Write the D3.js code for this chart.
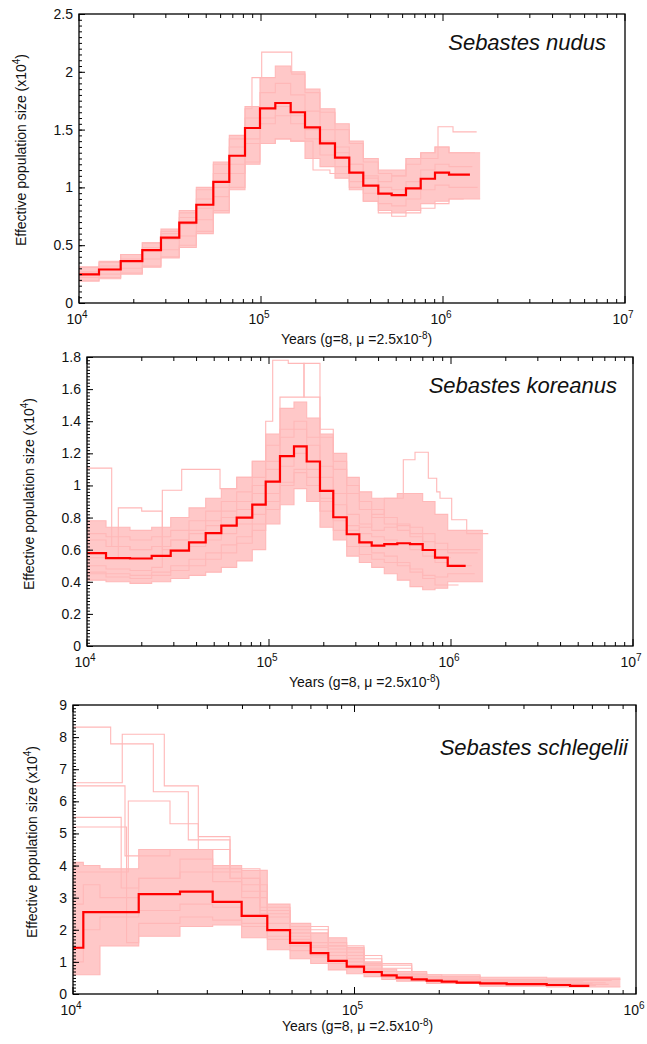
<!DOCTYPE html>
<html>
<head>
<meta charset="utf-8">
<script src="https://cdn.jsdelivr.net/npm/d3@7"></script>
<style>
body { margin: 0; background: #fff; }
svg { display: block; }
text { font-family: "Liberation Sans", Arial, Helvetica, sans-serif; fill: #111; }
</style>
</head>
<body>
<svg width="647" height="1044"></svg>
<script>
// ---- Sebastes nudus ----
var nudusYears = [1e4, 12882, 16950, 22280, 28210, 35560, 44110, 54700, 66960, 81680, 98740, 119840, 145600, 174500, 210900, 255000, 305500, 364700, 441000, 522400, 626100, 754300, 903600, 1079000];
var nudusNe = [0.248, 0.29, 0.363, 0.458, 0.565, 0.695, 0.85, 1.047, 1.274, 1.514, 1.684, 1.73, 1.65, 1.52, 1.38, 1.257, 1.127, 1.015, 0.946, 0.934, 0.992, 1.075, 1.127, 1.11];
var nudusEnd = 1406000;
var nudusBandLow = [0.19, 0.21, 0.25, 0.31, 0.39, 0.48, 0.60, 0.78, 0.98, 1.20, 1.38, 1.42, 1.40, 1.25, 1.18, 1.08, 0.98, 0.88, 0.80, 0.78, 0.80, 0.86, 0.88, 0.90];
var nudusBandHigh = [0.31, 0.36, 0.42, 0.52, 0.64, 0.80, 1.00, 1.22, 1.45, 1.70, 1.95, 2.05, 2.00, 1.85, 1.68, 1.55, 1.40, 1.25, 1.15, 1.15, 1.25, 1.30, 1.35, 1.30];
var nudusBandEnd = 1600000;
var nudusBoot = [
  { years: [1e4, 12882, 16950, 22280, 28210, 35560, 44110, 54700, 66960, 81680, 89210, 100900, 147500, 174500, 210900, 255000, 305500, 364700, 441000, 522400, 626100, 754300, 903600, 1079000],
    ne: [0.31, 0.35, 0.42, 0.52, 0.62, 0.78, 0.98, 1.2, 1.42, 1.68, 1.95, 2.17, 1.98, 1.82, 1.65, 1.5, 1.38, 1.22, 1.12, 1.1, 1.2, 1.3, 1.35, 1.3], end: 1500000 },
  { years: [1e4, 12882, 16950, 22280, 28210, 35560, 44110, 54700, 66960, 81680, 98740, 119840, 145600, 174500, 210900, 255000, 305500, 364700, 441000, 522400, 626100, 938700, 1135000],
    ne: [0.26, 0.3, 0.36, 0.45, 0.55, 0.68, 0.82, 1.0, 1.2, 1.42, 1.6, 1.7, 1.62, 1.5, 1.4, 1.3, 1.2, 1.1, 1.05, 1.1, 1.25, 1.525, 1.48], end: 1531000 },
  { years: [1e4, 12882, 16950, 22280, 28210, 35560, 44110, 54700, 66960, 81680, 98740, 119840, 145600, 193100, 239300, 305500, 364700, 441000, 522400, 626100, 754300, 903600, 1079000],
    ne: [0.19, 0.22, 0.26, 0.32, 0.4, 0.5, 0.62, 0.8, 1.0, 1.22, 1.38, 1.42, 1.40, 1.15, 1.12, 1.0, 0.88, 0.78, 0.75, 0.78, 0.82, 0.86, 0.9], end: 1300000 },
  { years: nudusYears,
    ne: [0.27, 0.32, 0.38, 0.48, 0.6, 0.74, 0.9, 1.12, 1.35, 1.6, 1.82, 1.9, 1.8, 1.66, 1.5, 1.35, 1.2, 1.08, 1.0, 0.98, 1.05, 1.15, 1.2, 1.18], end: 1450000 },
  { years: nudusYears,
    ne: [0.22, 0.25, 0.3, 0.38, 0.46, 0.58, 0.72, 0.92, 1.12, 1.38, 1.55, 1.62, 1.55, 1.42, 1.28, 1.18, 1.05, 0.95, 0.86, 0.84, 0.9, 0.98, 1.02, 1.0], end: 1550000 }
];
var nudusYTicks = [0, 0.5, 1, 1.5, 2, 2.5];

// ---- Sebastes koreanus ----
var koreanusYears = [1e4, 12720, 17230, 22670, 28840, 36350, 44890, 54700, 66460, 80930, 95920, 114900, 137200, 161100, 190600, 225500, 267300, 313500, 366700, 430000, 506900, 595100, 698900, 816900, 959300];
var koreanusNe = [0.578, 0.547, 0.545, 0.561, 0.594, 0.646, 0.703, 0.75, 0.80, 0.881, 1.024, 1.183, 1.243, 1.149, 0.966, 0.802, 0.696, 0.646, 0.625, 0.634, 0.64, 0.634, 0.598, 0.55, 0.499];
var koreanusEnd = 1204000;
var koreanusBandLow = [0.41, 0.40, 0.39, 0.40, 0.42, 0.44, 0.46, 0.49, 0.53, 0.60, 0.76, 0.88, 0.98, 0.90, 0.74, 0.66, 0.56, 0.52, 0.49, 0.45, 0.41, 0.37, 0.35, 0.36, 0.40];
var koreanusBandHigh = [0.78, 0.74, 0.72, 0.74, 0.80, 0.86, 0.92, 0.98, 1.05, 1.15, 1.32, 1.48, 1.52, 1.42, 1.32, 1.20, 1.05, 0.96, 0.92, 0.92, 0.95, 0.95, 0.90, 0.82, 0.72];
var koreanusBandEnd = 1500000;
var koreanusBoot = [
  { years: [1e4, 13670, 17230, 22670, 28840, 36350, 44890, 54700, 66460, 80930, 95920, 114900, 137200, 161100, 190600, 225500, 267300, 313500, 366700, 430000, 506900, 595100, 698900, 816900, 959300],
    ne: [1.108, 0.62, 0.60, 0.62, 0.66, 0.70, 0.75, 0.80, 0.85, 0.95, 1.10, 1.30, 1.35, 1.25, 1.05, 0.88, 0.75, 0.70, 0.68, 0.66, 0.64, 0.60, 0.56, 0.52, 0.50], end: 1300000 },
  { years: [1e4, 14860, 19980, 25930, 36350, 44890, 54700, 66460, 80930, 95920, 114900, 137200, 161100, 190600, 225500, 267300, 313500, 366700, 430000, 506900, 595100, 698900, 816900],
    ne: [0.55, 0.86, 0.84, 0.60, 0.62, 0.66, 0.70, 0.76, 0.82, 0.95, 1.12, 1.20, 1.10, 0.92, 0.80, 0.70, 0.62, 0.58, 0.56, 0.52, 0.48, 0.42, 0.38], end: 1100000 },
  { years: [1e4, 12720, 17230, 22670, 25930, 33140, 53810, 66460, 80930, 95920, 104800, 127600, 155700, 190600, 225500, 267300, 313500, 366700, 430000, 506900, 595100, 698900, 816900, 959300],
    ne: [0.50, 0.48, 0.47, 0.49, 0.97, 1.10, 0.98, 1.05, 1.15, 1.40, 1.78, 1.76, 1.55, 1.35, 1.15, 1.0, 0.9, 0.85, 0.8, 0.75, 0.7, 0.65, 0.6, 0.58], end: 1400000 },
  { years: [1e4, 12720, 17230, 22670, 28840, 36350, 44890, 54700, 66460, 80930, 95920, 114900, 137200, 161100, 190600, 225500, 267300, 313500, 366700, 430000, 546900, 634200, 750500, 834500, 870000, 1009000, 1220000],
    ne: [0.45, 0.43, 0.42, 0.44, 0.47, 0.50, 0.54, 0.58, 0.64, 0.72, 0.85, 1.0, 1.1, 1.05, 0.90, 0.78, 0.72, 0.74, 0.82, 0.92, 1.16, 1.207, 1.045, 0.96, 0.92, 0.786, 0.70], end: 1603000 },
  { years: [1e4, 12720, 17230, 22670, 28840, 36350, 44890, 54700, 66460, 80930, 95920, 114900, 155700, 190600, 225500, 267300, 313500, 366700, 430000, 506900, 595100, 698900, 816900],
    ne: [0.7, 0.68, 0.66, 0.68, 0.72, 0.78, 0.84, 0.9, 0.96, 1.05, 1.25, 1.55, 1.76, 1.30, 1.1, 0.95, 0.85, 0.8, 0.76, 0.72, 0.68, 0.6, 0.55], end: 1000000 },
  { years: koreanusYears,
    ne: [0.66, 0.62, 0.6, 0.62, 0.66, 0.72, 0.78, 0.84, 0.9, 1.0, 1.15, 1.35, 1.4, 1.3, 1.12, 0.95, 0.82, 0.76, 0.72, 0.74, 0.76, 0.74, 0.7, 0.64, 0.6], end: 1450000 },
  { years: koreanusYears,
    ne: [0.46, 0.45, 0.44, 0.46, 0.5, 0.54, 0.58, 0.63, 0.68, 0.76, 0.9, 1.02, 1.08, 1.0, 0.84, 0.72, 0.62, 0.57, 0.54, 0.52, 0.5, 0.46, 0.44, 0.43, 0.45], end: 1350000 }
];
var koreanusYTicks = [0, 0.2, 0.4, 0.6, 0.8, 1, 1.2, 1.4, 1.6, 1.8];

// ---- Sebastes schlegelii ----
var schlegeliiYears = [1e4, 10880, 17120, 23990, 31350, 39730, 49000, 59020, 69900, 80710, 93830, 108100, 125000, 141200, 159700, 180500, 204100, 230700, 279200, 347200, 481700, 583000];
var schlegeliiNe = [1.44, 2.55, 3.11, 3.19, 2.87, 2.43, 1.99, 1.59, 1.27, 1.03, 0.85, 0.685, 0.58, 0.51, 0.457, 0.415, 0.384, 0.353, 0.332, 0.31, 0.28, 0.25];
var schlegeliiEnd = 682600;
var schlegeliiBandYears = [1e4, 10880, 12470, 17120, 23990, 31350, 39730, 49000, 59020, 69900, 80710, 93830, 108100, 125000, 141200, 180500, 279200, 481700];
var schlegeliiBandLow = [0.6, 0.6, 1.5, 1.8, 2.1, 2.15, 1.75, 1.38, 1.1, 0.95, 0.75, 0.63, 0.54, 0.45, 0.4, 0.33, 0.24, 0.22];
var schlegeliiBandHigh = [4.1, 4.0, 3.9, 4.5, 4.5, 4.0, 3.85, 2.8, 2.2, 1.9, 1.75, 1.45, 1.0, 0.78, 0.66, 0.56, 0.52, 0.50];
var schlegeliiBandEnd = 880000;
var schlegeliiBoot = [
  { years: [1e4, 13610, 19290, 25680, 36130, 46160, 59020, 69900, 93830, 125000, 180500, 279200, 481700],
    ne: [8.31, 7.79, 6.30, 4.80, 3.6, 2.5, 1.8, 1.5, 1.1, 0.62, 0.45, 0.38, 0.33], end: 700000 },
  { years: [1e4, 14960, 21100, 27870, 36130, 46160, 59020, 69900, 93830, 125000, 180500, 279200, 481700],
    ne: [6.58, 8.09, 6.48, 4.90, 3.9, 2.6, 1.9, 1.6, 1.2, 0.7, 0.5, 0.4, 0.35], end: 780000 },
  { years: [1e4, 15300, 22110, 31350, 39730, 49000, 59020, 80710, 108100, 159700, 279200],
    ne: [6.48, 4.3, 4.5, 3.8, 3.2, 2.4, 1.9, 1.3, 0.8, 0.5, 0.4], end: 650000 },
  { years: [1e4, 15720, 22110, 27870, 36130, 46160, 59020, 80710, 108100, 159700, 279200],
    ne: [3.8, 6.01, 5.3, 4.5, 3.6, 2.7, 2.0, 1.4, 0.9, 0.55, 0.42], end: 820000 },
  { years: [1e4, 14830, 17120, 23990, 31350, 39730, 49000, 59020, 80710, 108100, 159700, 279200],
    ne: [5.5, 3.3, 3.6, 4.2, 3.9, 3.4, 2.6, 2.1, 1.5, 0.95, 0.6, 0.45], end: 880000 },
  { years: [1e4, 15500, 17120, 23990, 31350, 39730, 49000, 59020, 69900, 93830, 125000, 204100, 347200],
    ne: [5.2, 1.6, 2.2, 2.4, 2.3, 2.1, 1.8, 1.5, 1.2, 0.9, 0.6, 0.4, 0.3], end: 600000 },
  { years: schlegeliiBandYears,
    ne: [1.0, 2.0, 2.4, 3.6, 3.8, 3.5, 3.0, 2.2, 1.7, 1.45, 1.2, 1.0, 0.75, 0.6, 0.52, 0.42, 0.36, 0.3], end: 800000 },
  { years: schlegeliiBandYears,
    ne: [2.8, 3.4, 3.0, 2.6, 2.8, 2.7, 2.2, 1.7, 1.35, 1.15, 0.95, 0.8, 0.65, 0.52, 0.46, 0.38, 0.3, 0.27], end: 720000 }
];
var schlegeliiYTicks = [0, 1, 2, 3, 4, 5, 6, 7, 8, 9];

var svg = d3.select('svg');
var bootColor = '#ffb8b8';
var bandColor = '#ffc8c8';

function steps(years, vals, end) {
  var pts = years.map(function (t, i) { return { t: t, v: vals[i] }; });
  pts.push({ t: end, v: vals[vals.length - 1] });
  return pts;
}

function bandSteps(years, lo, hi, end) {
  var pts = years.map(function (t, i) { return { t: t, lo: lo[i], hi: hi[i] }; });
  pts.push({ t: end, lo: lo[lo.length - 1], hi: hi[hi.length - 1] });
  return pts;
}

function panel(p, idx) {
  var x = d3.scaleLog().domain(p.xDomain).range([p.left, p.right]);
  var y = d3.scaleLinear().domain([0, p.yMax]).range([p.bottom, p.top]);
  var g = svg.append('g');

  g.append('clipPath').attr('id', 'clip' + idx)
    .append('rect')
    .attr('x', p.left).attr('y', p.top)
    .attr('width', p.right - p.left).attr('height', p.bottom - p.top);

  var plot = g.append('g').attr('clip-path', 'url(#clip' + idx + ')');

  var band = bandSteps(p.bandYears, p.bandLow, p.bandHigh, p.bandEnd);
  plot.append('path')
    .datum(band)
    .attr('fill', bandColor)
    .attr('d', d3.area()
      .x(function (d) { return x(d.t); })
      .y0(function (d) { return y(d.lo); })
      .y1(function (d) { return y(d.hi); })
      .curve(d3.curveStepAfter));

  var line = d3.line()
    .x(function (d) { return x(d.t); })
    .y(function (d) { return y(d.v); })
    .curve(d3.curveStepAfter);

  // band edges are bootstrap curves too
  [p.bandLow, p.bandHigh].forEach(function (vals) {
    plot.append('path')
      .datum(steps(p.bandYears, vals, p.bandEnd))
      .attr('fill', 'none')
      .attr('stroke', bootColor)
      .attr('stroke-width', 1.1)
      .attr('d', line);
  });

  plot.selectAll('.boot')
    .data(p.boot)
    .enter()
    .append('path')
    .attr('class', 'boot')
    .attr('fill', 'none')
    .attr('stroke', bootColor)
    .attr('stroke-width', 1.1)
    .attr('d', function (d) { return line(steps(d.years, d.ne, d.end)); });

  plot.append('path')
    .datum(steps(p.years, p.ne, p.end))
    .attr('fill', 'none')
    .attr('stroke', '#ff0000')
    .attr('stroke-width', 2.2)
    .attr('d', line);

  // frame
  g.append('rect')
    .attr('x', p.left).attr('y', p.top)
    .attr('width', p.right - p.left).attr('height', p.bottom - p.top)
    .attr('fill', 'none').attr('stroke', '#000').attr('stroke-width', 1.3);

  // x ticks (inward, bottom and top)
  var lo = Math.log10(p.xDomain[0]), hi = Math.log10(p.xDomain[1]);
  var majors = d3.range(lo, hi + 1).map(function (e) { return Math.pow(10, e); });
  var minors = [];
  majors.slice(0, -1).forEach(function (m) {
    for (var k = 2; k <= 9; k++) minors.push(m * k);
  });
  var xt = g.append('g').attr('stroke', '#000').attr('stroke-width', 1);
  [[minors, 4], [majors, 7]].forEach(function (set) {
    xt.selectAll(null).data(set[0]).enter().append('line')
      .attr('x1', x).attr('x2', x)
      .attr('y1', p.bottom).attr('y2', p.bottom - set[1]);
    xt.selectAll(null).data(set[0]).enter().append('line')
      .attr('x1', x).attr('x2', x)
      .attr('y1', p.top).attr('y2', p.top + set[1]);
  });

  var xl = g.selectAll(null).data(majors).enter().append('text')
    .attr('x', function (d) { return x(d) - 2; })
    .attr('y', p.bottom + 21)
    .attr('text-anchor', 'middle')
    .attr('font-size', 14);
  xl.append('tspan').text('10');
  xl.append('tspan').attr('dy', -6).attr('font-size', 10)
    .text(function (d) { return Math.round(Math.log10(d)); });

  // y axis: major labelled ticks + dense minor ticks, inward
  g.append('g')
    .attr('transform', 'translate(' + p.left + ',0)')
    .call(d3.axisLeft(y).tickValues(p.yTicks).tickSize(-6).tickPadding(6)
      .tickFormat(function (d) { return String(d); }))
    .call(function (a) { a.select('.domain').remove(); })
    .call(function (a) {
      a.selectAll('text').attr('font-size', 14).attr('font-family', null).attr('fill', '#111');
    });
  var nMinor = Math.round(p.yMax / p.yMinor);
  g.append('g')
    .attr('transform', 'translate(' + p.left + ',0)')
    .call(d3.axisLeft(y).tickValues(d3.range(nMinor + 1).map(function (i) { return i * p.yMinor; }))
      .tickSize(-3).tickFormat(''))
    .call(function (a) { a.select('.domain').remove(); });

  // axis titles
  var xt2 = g.append('text')
    .attr('x', p.xLabelX).attr('y', p.bottom + p.xLabelDy)
    .attr('font-size', 14);
  xt2.append('tspan').text('Years (g=8, \u03bc =2.5x10');
  xt2.append('tspan').attr('dy', -5).attr('font-size', 10).text('-8');
  xt2.append('tspan').attr('dy', 5).text(')');

  var yt = g.append('text')
    .attr('transform', 'translate(' + p.yLabelX + ',' + p.yLabelY + ') rotate(-90)')
    .attr('text-anchor', 'middle')
    .attr('font-size', 14);
  yt.append('tspan').text('Effective population size (x10');
  yt.append('tspan').attr('dy', -6).attr('font-size', 10).text('4');
  yt.append('tspan').attr('dy', 6).text(')');

  g.append('text')
    .attr('x', p.titleX).attr('y', p.titleY)
    .attr('text-anchor', 'end')
    .attr('font-size', 22)
    .attr('font-style', 'italic')
    .text(p.title);
}

var panels = [
  { title: 'Sebastes nudus', years: nudusYears, ne: nudusNe, end: nudusEnd,
    bandYears: nudusYears, bandLow: nudusBandLow, bandHigh: nudusBandHigh, bandEnd: nudusBandEnd,
    boot: nudusBoot, yTicks: nudusYTicks, yMax: 2.5, yMinor: 0.05, xDomain: [1e4, 1e7],
    left: 79, right: 625, top: 14, bottom: 303,
    titleX: 606, titleY: 50, xLabelX: 281, xLabelDy: 41, yLabelX: 26, yLabelY: 150 },
  { title: 'Sebastes koreanus', years: koreanusYears, ne: koreanusNe, end: koreanusEnd,
    bandYears: koreanusYears, bandLow: koreanusBandLow, bandHigh: koreanusBandHigh, bandEnd: koreanusBandEnd,
    boot: koreanusBoot, yTicks: koreanusYTicks, yMax: 1.8, yMinor: 0.02, xDomain: [1e4, 1e7],
    left: 87, right: 633, top: 357, bottom: 646,
    titleX: 617, titleY: 393, xLabelX: 289, xLabelDy: 41, yLabelX: 34, yLabelY: 494 },
  { title: 'Sebastes schlegelii', years: schlegeliiYears, ne: schlegeliiNe, end: schlegeliiEnd,
    bandYears: schlegeliiBandYears, bandLow: schlegeliiBandLow, bandHigh: schlegeliiBandHigh, bandEnd: schlegeliiBandEnd,
    boot: schlegeliiBoot, yTicks: schlegeliiYTicks, yMax: 9, yMinor: 0.1, xDomain: [1e4, 1e6],
    left: 73, right: 636, top: 705, bottom: 994,
    titleX: 628, titleY: 755, xLabelX: 282, xLabelDy: 37, yLabelX: 37, yLabelY: 842 }
];

panels.forEach(panel);
</script>
</body>
</html>
